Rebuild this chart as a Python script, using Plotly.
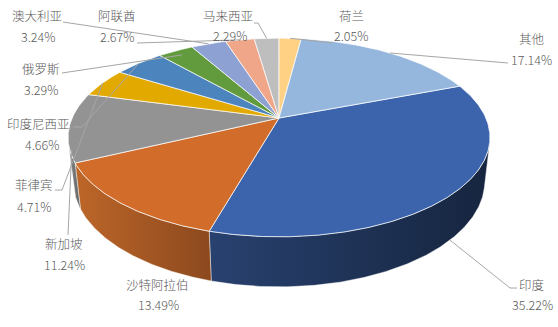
import numpy as np
import plotly.graph_objects as go

# ---- data -------------------------------------------------------------
countries = ["印度", "沙特阿拉伯", "新加坡", "菲律宾", "印度尼西亚", "俄罗斯",
             "澳大利亚", "阿联酋", "马来西亚", "荷兰", "其他"]
shares = [35.22, 13.49, 11.24, 4.71, 4.66, 3.29, 3.24, 2.67, 2.29, 2.05, 17.14]

# ---- style ------------------------------------------------------------
top_colors = ["#3B64AC", "#D26C2A", "#939393", "#E2A900", "#4C84BD", "#629B3D",
              "#8EA1D3", "#F0A688", "#BEBEBE", "#FFD184", "#95B7DD"]
side_colors = [("#28416F", "#16253F"), ("#BD6629", "#8C491E"), ("#7E7E7E", "#6A6A6A"),
               ("#B88A00", "#8C6900"), ("#3C6A98", "#2E5074"), ("#4E7C31", "#3B5E25"),
               ("#7282AB", "#57637F"), ("#C48670", "#946554"), ("#9A9A9A", "#767676"),
               ("#D0AA6B", "#9E8151"), ("#7895B4", "#5B7189")]

# label centres: (x, name_y, pct_y, pct_x)
label_pos = [(531, 284, 304, 532), (157, 284, 304, 158), (64, 243, 264, 64),
             (34, 184, 206, 34), (38, 123, 144, 42), (41, 68, 89, 41),
             (37, 15, 36, 38), (117, 15, 36, 117), (228, 15, 35, 230),
             (351, 15, 35, 351), (531, 38, 59, 531)]
# leader-line start points next to each label, and how far down the rim it ends
leader_start = [[(517, 288), (510, 288)], None, [(68, 235)], [(55, 190), (62, 190)],
                [(73, 127), (82, 127)], [(62, 73)], [(63, 22)], [(137, 43)],
                [(254, 23), (258, 23)], [(333, 43)], [(508, 63)]]
leader_depth = [1.0, 0, 0.5, 0, 0, 0, 0, 0, 0, 0, 0]
leader_radius = [1.0, 1.0, 1.0, 1.0, 1.0, 0.93, 1.0, 1.0, 1.0, 1.0, 1.0]

# ---- 3D pie projection ------------------------------------------------
W, H = 558, 327
CX, CY = 279.0, 118.0
FOCAL = 936.6
DIST = 4.527
TILT = np.radians(27.5)
THICK = 0.242
FIRST_ANGLE = 69.1
ct, st = np.cos(TILT), np.sin(TILT)


def project(beta_deg, r, z):
    b = np.radians(np.asarray(beta_deg, dtype=float))
    X = r * np.sin(b)
    Y = r * np.cos(b)
    d = DIST + Y * ct - z * st
    u = FOCAL * X / d
    v = FOCAL * (z * ct + Y * st) / d
    return CX + u, CY - v


def arc(a0, a1, step=0.5):
    n = max(2, int(np.ceil(abs(a1 - a0) / step)) + 1)
    return np.linspace(a0, a1, n)


total = sum(shares)
edges = FIRST_ANGLE + 360.0 * np.concatenate([[0], np.cumsum(shares)]) / total
mids = (edges[:-1] + edges[1:]) / 2

# the outer wall faces the viewer where cos(beta) < -1/(DIST*cos(tilt))
b_vis = np.degrees(np.arccos(-1.0 / (DIST * ct)))
windows = [(b_vis, 360 - b_vis), (b_vis + 360, 720 - b_vis)]

fig = go.Figure()

# front walls
for i in range(len(shares)):
    a0, a1 = edges[i], edges[i + 1]
    for w0, w1 in windows:
        lo, hi = max(a0, w0), min(a1, w1)
        if hi <= lo:
            continue
        angs = arc(lo, hi)
        xt, yt = project(angs, 1.0, 0.0)
        xb, yb = project(angs[::-1], 1.0, -THICK)
        xs = np.concatenate([xt, xb, xt[:1]])
        ys = np.concatenate([yt, yb, yt[:1]])
        c0, c1 = side_colors[i]
        fig.add_trace(go.Scatter(
            x=xs, y=ys, mode="lines", fill="toself",
            fillcolor=c0,
            fillgradient=dict(type="horizontal", colorscale=[[0, c0], [1, c1]]),
            line=dict(color="rgba(255,255,255,0.55)", width=0.8),
            hoverinfo="skip", showlegend=False))

# top faces
for i in range(len(shares)):
    angs = arc(edges[i], edges[i + 1])
    xa, ya = project(angs, 1.0, 0.0)
    xs = np.concatenate([[CX], xa, [CX]])
    ys = np.concatenate([[CY], ya, [CY]])
    fig.add_trace(go.Scatter(
        x=xs, y=ys, mode="lines", fill="toself", fillcolor=top_colors[i],
        line=dict(color="rgba(255,255,255,0.8)", width=0.9),
        name=countries[i], hoverinfo="name", showlegend=False))

# leader lines
for i in range(len(shares)):
    if leader_start[i] is None:
        continue
    ex, ey = project(mids[i] % 360, leader_radius[i], -THICK * leader_depth[i])
    pts = leader_start[i] + [(float(ex), float(ey))]
    fig.add_trace(go.Scatter(
        x=[p[0] for p in pts], y=[p[1] for p in pts], mode="lines",
        line=dict(color="#A6A6A6", width=1), hoverinfo="skip", showlegend=False))

# labels
font = dict(family="Noto Sans CJK SC, Noto Sans, sans-serif", size=12.5,
            color="#595959", weight=300)
for i, name in enumerate(countries):
    x, ny, py, px = label_pos[i]
    fig.add_annotation(x=x, y=ny, text=name, showarrow=False, font=font,
                       xanchor="center", yanchor="middle")
    fig.add_annotation(x=px, y=py, text=f"{shares[i]:.2f}%", showarrow=False,
                       font=font, xanchor="center", yanchor="middle")

fig.update_layout(
    width=W, height=H, autosize=False,
    margin=dict(l=0, r=0, t=0, b=0),
    paper_bgcolor="white", plot_bgcolor="white",
    xaxis=dict(range=[0, W], visible=False, fixedrange=True),
    yaxis=dict(range=[H, 0], visible=False, fixedrange=True),
)

fig.write_html("out.html")
